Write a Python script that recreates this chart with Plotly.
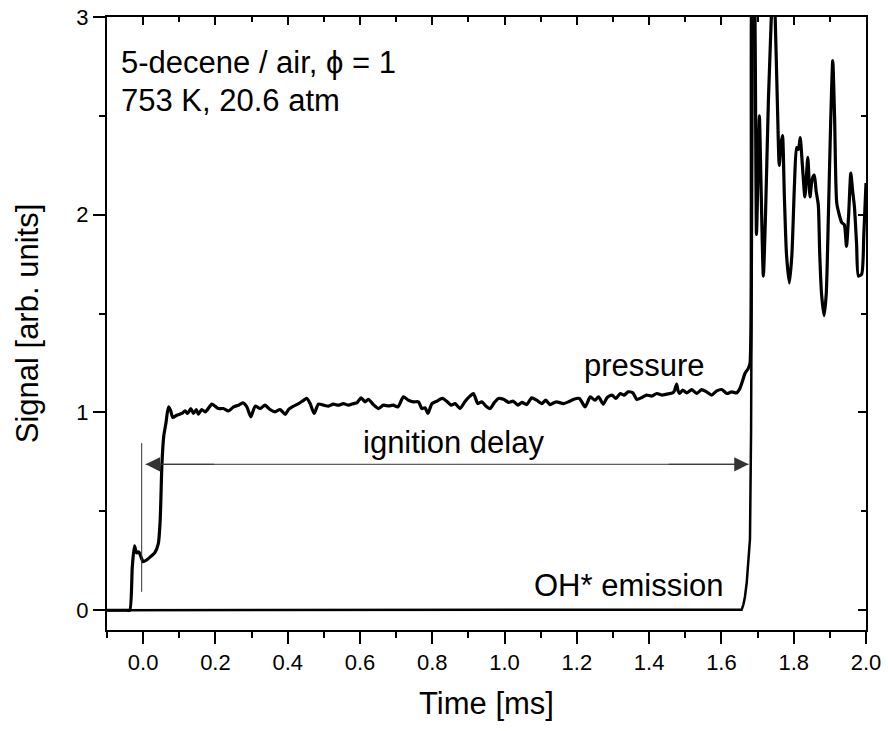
import plotly.graph_objects as go

# ---------------- data ----------------
pressure_t = [
    -0.100, -0.045, -0.037, -0.030, -0.024, -0.018, -0.012, -0.006, 0.000, 0.010, 0.020,
    0.032, 0.042, 0.047, 0.052, 0.057, 0.063, 0.070, 0.076, 0.082, 0.093,
    0.107, 0.116, 0.123, 0.132, 0.139, 0.147, 0.153, 0.162, 0.172, 0.190,
    0.199, 0.208, 0.222, 0.236, 0.250, 0.264, 0.276, 0.287, 0.298, 0.310,
    0.324, 0.337, 0.351, 0.365, 0.379, 0.393, 0.402, 0.416, 0.430, 0.442,
    0.453, 0.462, 0.473, 0.485, 0.499, 0.513, 0.526, 0.540, 0.554, 0.568,
    0.582, 0.592, 0.603, 0.614, 0.623, 0.637, 0.651, 0.665, 0.679, 0.692,
    0.705, 0.720, 0.734, 0.748, 0.762, 0.771, 0.780, 0.788, 0.799, 0.812,
    0.828, 0.840, 0.852, 0.863, 0.877, 0.891, 0.905, 0.914, 0.926, 0.937,
    0.948, 0.960, 0.972, 0.983, 0.997, 1.011, 1.024, 1.037, 1.048, 1.061,
    1.075, 1.089, 1.103, 1.114, 1.126, 1.138, 1.144, 1.163, 1.177, 1.190,
    1.207, 1.223, 1.237, 1.250, 1.260, 1.273, 1.284, 1.297, 1.308, 1.320,
    1.331, 1.342, 1.355, 1.366, 1.380, 1.393, 1.407, 1.421, 1.435, 1.449,
    1.465, 1.470, 1.476, 1.480, 1.484, 1.493, 1.504, 1.518, 1.532, 1.545,
    1.559, 1.573, 1.587, 1.601, 1.615, 1.628, 1.642, 1.651, 1.659, 1.665,
    1.674, 1.679, 1.684, 1.690, 1.697, 1.701, 1.705, 1.709, 1.716, 1.722,
    1.730, 1.739, 1.743, 1.748, 1.755, 1.760, 1.765, 1.769, 1.774, 1.780,
    1.788, 1.795, 1.802, 1.808, 1.813, 1.818, 1.824, 1.831, 1.839, 1.845,
    1.851, 1.857, 1.862, 1.868, 1.872, 1.877, 1.884, 1.890, 1.896, 1.902,
    1.908, 1.913, 1.919, 1.926, 1.933, 1.940, 1.946, 1.952, 1.958, 1.963,
    1.968, 1.974, 1.979, 1.988, 1.994, 2.000,
]
pressure_v = [
    0.000, 0.000, 0.000, 0.220, 0.325, 0.290, 0.295, 0.270, 0.245, 0.255, 0.270,
    0.290, 0.337, 0.450, 0.740, 0.880, 0.945, 1.028, 1.010, 0.975, 0.986,
    0.995, 1.008, 0.995, 1.020, 0.995, 1.015, 0.991, 1.015, 1.003, 1.042,
    1.032, 1.020, 1.020, 1.008, 1.028, 1.037, 1.049, 1.028, 0.978, 1.032,
    1.020, 1.037, 1.015, 1.003, 1.015, 0.990, 1.015, 1.032, 1.045, 1.059,
    1.071, 1.045, 0.995, 1.042, 1.037, 1.032, 1.042, 1.037, 1.045, 1.037,
    1.045, 1.050, 1.074, 1.054, 1.067, 1.040, 1.020, 1.037, 1.033, 1.037,
    1.028, 1.079, 1.062, 1.054, 1.054, 1.020, 1.024, 0.995, 1.045, 1.057,
    1.071, 1.057, 1.037, 1.045, 1.020, 1.057, 1.084, 1.096, 1.045, 1.054,
    1.033, 1.020, 1.051, 1.071, 1.067, 1.051, 1.057, 1.037, 1.051, 1.040,
    1.074, 1.062, 1.045, 1.062, 1.040, 1.051, 1.054, 1.045, 1.054, 1.066,
    1.071, 1.028, 1.079, 1.062, 1.079, 1.042, 1.076, 1.088, 1.071, 1.096,
    1.088, 1.104, 1.099, 1.066, 1.076, 1.088, 1.083, 1.096, 1.088, 1.093,
    1.099, 1.110, 1.143, 1.110, 1.096, 1.113, 1.099, 1.116, 1.096, 1.116,
    1.104, 1.088, 1.109, 1.116, 1.096, 1.104, 1.099, 1.121, 1.163, 1.197,
    1.222, 1.248, 3.200, 3.300, 1.900, 2.200, 2.500, 2.200, 1.690, 2.000,
    2.580, 3.050, 3.300, 3.050, 2.550, 2.250, 2.360, 2.400, 2.100, 1.800,
    1.655, 1.800, 2.150, 2.340, 2.330, 2.390, 2.250, 2.090, 2.290, 2.090,
    2.180, 2.200, 2.120, 2.050, 1.800, 1.600, 1.490, 1.600, 2.000, 2.450,
    2.780, 2.500, 2.060, 2.000, 1.960, 1.950, 1.840, 2.000, 2.210, 2.120,
    2.040, 1.850, 1.690, 1.700, 1.900, 2.160,
]

oh_t = [-0.100, 1.650, 1.656, 1.661, 1.665, 1.670, 1.674, 1.679, 1.682, 1.685, 1.688, 2.000]
oh_v = [0.000, 0.000, 0.003, 0.030, 0.067, 0.140, 0.250, 0.360, 0.900, 2.000, 3.500, 3.500]

x_ticks = [0.0, 0.2, 0.4, 0.6, 0.8, 1.0, 1.2, 1.4, 1.6, 1.8, 2.0]
x_ticklabels = ["0.0", "0.2", "0.4", "0.6", "0.8", "1.0", "1.2", "1.4", "1.6", "1.8", "2.0"]
y_ticks = [0, 1, 2, 3]
y_ticklabels = ["0", "1", "2", "3"]

FONT = "Liberation Sans, Arial, sans-serif"
X_RANGE = [-0.1, 2.0]
Y_RANGE = [-0.1, 3.0]

fig = go.Figure()
fig.add_trace(go.Scatter(x=oh_t, y=oh_v, mode="lines",
                         line=dict(color="black", width=2.5), showlegend=False))
fig.add_trace(go.Scatter(x=pressure_t, y=pressure_v, mode="lines",
                         line=dict(color="black", width=3.2, shape="spline", smoothing=0.6),
                         showlegend=False))
# dummy trace to activate the mirrored top/right axes
fig.add_trace(go.Scatter(x=[], y=[], xaxis="x2", yaxis="y2", showlegend=False))

# thin vertical marker at time zero
fig.add_shape(type="line", x0=-0.004, x1=-0.004, y0=0.093, y1=0.845,
              xref="x", yref="y", line=dict(color="#333333", width=1))
# ignition delay double arrow
fig.add_shape(type="line", x0=0.007, x1=1.675, y0=0.738, y1=0.738,
              xref="x", yref="y", line=dict(color="#333333", width=1))
for tip, tail in ((0.007, 0.2), (1.675, 1.45)):
    fig.add_annotation(x=tip, y=0.738, ax=tail, ay=0.738, axref="x", ayref="y",
                       xref="x", yref="y", text="", showarrow=True,
                       arrowhead=2, arrowsize=2.6, arrowwidth=1.1, arrowcolor="#333333",
                       standoff=0, startstandoff=0)

txt = dict(family=FONT, size=31, color="black")
fig.add_annotation(x=-0.068, y=2.77, xref="x", yref="y", text="5-decene / air, ϕ = 1",
                   showarrow=False, xanchor="left", yanchor="middle", font=txt)
fig.add_annotation(x=-0.068, y=2.58, xref="x", yref="y", text="753 K, 20.6 atm",
                   showarrow=False, xanchor="left", yanchor="middle", font=txt)
fig.add_annotation(x=1.386, y=1.238, xref="x", yref="y", text="pressure",
                   showarrow=False, font=txt)
fig.add_annotation(x=0.858, y=0.848, xref="x", yref="y", text="ignition delay",
                   showarrow=False, font=txt)
fig.add_annotation(x=1.344, y=0.126, xref="x", yref="y", text="OH* emission",
                   showarrow=False, font=txt)

fig.update_layout(
    width=888, height=731,
    margin=dict(l=107, r=22, t=17, b=101, autoexpand=False),
    paper_bgcolor="white", plot_bgcolor="white",
    font=dict(family=FONT, color="black"),
    xaxis=dict(range=X_RANGE, tickvals=x_ticks, ticktext=x_ticklabels, automargin=False,
               ticks="outside", ticklen=12, tickwidth=2, tickcolor="black",
               minor=dict(dtick=0.1, tick0=0, ticks="outside", ticklen=6, tickwidth=2, tickcolor="black"),
               showline=True, linewidth=2, linecolor="black", mirror=False,
               showgrid=False, zeroline=False,
               tickfont=dict(family=FONT, size=22, color="black"),
               title=dict(text="Time [ms]", font=dict(family=FONT, size=31, color="black"), standoff=18)),
    yaxis=dict(range=Y_RANGE, tickvals=y_ticks, ticktext=y_ticklabels, automargin=False,
               ticks="outside", ticklen=12, tickwidth=2, tickcolor="black",
               minor=dict(dtick=0.5, tick0=0, ticks="outside", ticklen=6, tickwidth=2, tickcolor="black"),
               showline=True, linewidth=2, linecolor="black", mirror=False,
               showgrid=False, zeroline=False,
               tickfont=dict(family=FONT, size=22, color="black"),
               title=dict(text="Signal [arb. units]", font=dict(family=FONT, size=31, color="black"), standoff=28)),
    xaxis2=dict(range=X_RANGE, overlaying="x", side="top", anchor="y", automargin=False,
                tickvals=x_ticks, showticklabels=False,
                ticks="inside", ticklen=8, tickwidth=2, tickcolor="black",
                minor=dict(dtick=0.1, tick0=0, ticks="inside", ticklen=5, tickwidth=2, tickcolor="black"),
                showline=True, linewidth=2, linecolor="black",
                showgrid=False, zeroline=False),
    yaxis2=dict(range=Y_RANGE, overlaying="y", side="right", anchor="x", automargin=False,
                tickvals=y_ticks, showticklabels=False,
                ticks="inside", ticklen=8, tickwidth=2, tickcolor="black",
                minor=dict(dtick=0.5, tick0=0, ticks="inside", ticklen=5, tickwidth=2, tickcolor="black"),
                showline=True, linewidth=2, linecolor="black",
                showgrid=False, zeroline=False),
)

fig.write_html("out.html")
